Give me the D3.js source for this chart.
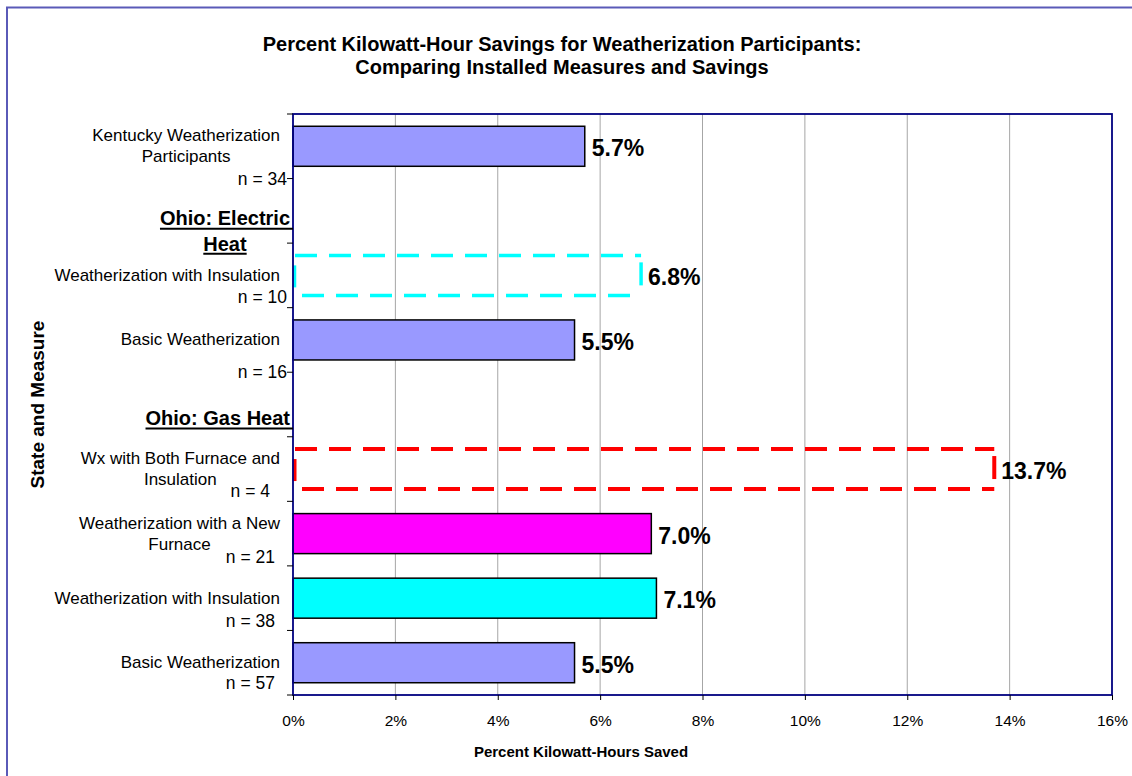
<!DOCTYPE html>
<html>
<head>
<meta charset="utf-8">
<script src="https://cdn.jsdelivr.net/npm/d3@7/dist/d3.min.js"></script>
<style>
  html, body { margin: 0; padding: 0; background: #fff; }
  svg { display: block; font-family: "Liberation Sans", Arial, sans-serif; }
</style>
</head>
<body>
<svg id="chart" width="1132" height="776"></svg>
<script>
// Rows from top to bottom; group headers have no value or sample size.
const categoryLines = [
  ["Kentucky Weatherization", "Participants"],
  ["Ohio: Electric", "Heat"],
  ["Weatherization with Insulation"],
  ["Basic Weatherization"],
  ["Ohio: Gas Heat"],
  ["Wx with Both Furnace and", "Insulation"],
  ["Weatherization with a New", "Furnace"],
  ["Weatherization with Insulation"],
  ["Basic Weatherization"]
];
const sampleSizes = [34, null, 10, 16, null, 4, 21, 38, 57];
const savingsPct = [5.7, null, 6.8, 5.5, null, 13.7, 7.0, 7.1, 5.5];
const xTickValues = [0, 2, 4, 6, 8, 10, 12, 14, 16];

const titleLines = [
  "Percent Kilowatt-Hour Savings for Weatherization Participants:",
  "Comparing Installed Measures and Savings"
];
const xTitle = "Percent Kilowatt-Hours Saved";
const yTitle = "State and Measure";

// Bar appearance per row: solid fill or dashed outline only.
const barStyle = [
  { fill: "#9999FF" },
  null,
  { dashed: "#00FFFF", width: 3.5 },
  { fill: "#9999FF" },
  null,
  { dashed: "#FF0000", width: 4 },
  { fill: "#FF00FF" },
  { fill: "#00FFFF" },
  { fill: "#9999FF" }
];
// Placement tweaks: for measure rows, the "n = .." line (dx from axis, dy from row bottom);
// for header rows, the first line's offset below the row centre.
const rowNudge = [
  [-6, 0], 7, [-6, -11], [-6, 0], 13, [-23, -10.5], [-18, -9], [-18, -9], [-18, -12]
];

const svg = d3.select("#chart");
const plot = { left: 293, right: 1112, top: 114, bottom: 695 };

// Outer chart frame (only left and top edges fall inside the view)
svg.append("rect")
  .attr("x", 7).attr("y", 7.5).attr("width", 1300).attr("height", 1000)
  .attr("fill", "none").attr("stroke", "#5a5ab8").attr("stroke-width", 2);

const x = d3.scaleLinear().domain([0, 16]).range([plot.left, plot.right]);
const y = d3.scaleBand().domain(d3.range(categoryLines.length))
  .range([plot.top, plot.bottom]).paddingInner(0).paddingOuter(0);
const barH = y.bandwidth() * 0.62;

// Gridlines
svg.append("g").selectAll("line")
  .data(xTickValues.filter(d => d > 0 && d < 16))
  .join("line")
  .attr("x1", d => x(d)).attr("x2", d => x(d))
  .attr("y1", plot.top).attr("y2", plot.bottom)
  .attr("stroke", "#a6a6a6").attr("stroke-width", 1);

// Bars
const rows = d3.range(categoryLines.length).filter(i => savingsPct[i] != null);
const gBars = svg.append("g");
rows.forEach(i => {
  const s = barStyle[i];
  const y0 = y(i) + (y.bandwidth() - barH) / 2;
  const x0 = x(0), x1 = x(savingsPct[i]);
  if (s.fill) {
    gBars.append("rect")
      .attr("x", x0).attr("y", y0).attr("width", x1 - x0).attr("height", barH)
      .attr("fill", s.fill).attr("stroke", "#000").attr("stroke-width", 1.5);
  } else {
    const g = gBars.append("g").attr("stroke", s.dashed).attr("stroke-width", s.width).attr("fill", "none");
    g.append("line").attr("x1", x0 + 2).attr("x2", x1).attr("y1", y0).attr("y2", y0)
      .attr("stroke-dasharray", "22 12");
    g.append("line").attr("x1", x0 + 9).attr("x2", x1).attr("y1", y0 + barH).attr("y2", y0 + barH)
      .attr("stroke-dasharray", "22 12");
    g.append("line").attr("x1", x1).attr("x2", x1).attr("y1", y0 + 7).attr("y2", y0 + 30);
    g.append("line").attr("x1", x0 + 1.5).attr("x2", x0 + 1.5).attr("y1", y0 + 10).attr("y2", y0 + 32);
  }
});

// Value labels
svg.append("g").selectAll("text")
  .data(rows)
  .join("text")
  .attr("x", i => x(savingsPct[i]) + 7)
  .attr("y", i => y(i) + y.bandwidth() / 2 + 2)
  .attr("dominant-baseline", "central")
  .attr("font-size", 23).attr("font-weight", "bold").attr("fill", "#000")
  .text(i => savingsPct[i].toFixed(1) + "%");

// Plot border
svg.append("rect")
  .attr("x", plot.left).attr("y", plot.top)
  .attr("width", plot.right - plot.left).attr("height", plot.bottom - plot.top)
  .attr("fill", "none").attr("stroke", "#000080").attr("stroke-width", 1.8);

// X axis ticks and labels
const xAxis = d3.axisBottom(x).tickValues(xTickValues).tickSize(5).tickPadding(15)
  .tickFormat(d => d + "%");
const gx = svg.append("g").attr("transform", `translate(0,${plot.bottom})`).call(xAxis);
gx.select(".domain").remove();
gx.selectAll("line").attr("stroke", "#000");
gx.selectAll("text").attr("font-size", 15.5).attr("font-family", "Liberation Sans, Arial, sans-serif")
  .attr("fill", "#000");

// Y axis ticks at row boundaries
const boundaries = d3.range(categoryLines.length + 1).map(i => plot.top + i * y.bandwidth());
svg.append("g").selectAll("line")
  .data(boundaries)
  .join("line")
  .attr("x1", plot.left - 6).attr("x2", plot.left)
  .attr("y1", d => d).attr("y2", d => d)
  .attr("stroke", "#000").attr("stroke-width", 1);

// Row labels
const gLab = svg.append("g");
categoryLines.forEach((lines, i) => {
  const header = savingsPct[i] == null;
  const cy = y(i) + y.bandwidth() / 2;
  if (header) {
    const lh = 26;
    const y1 = cy + rowNudge[i];
    const right = plot.left - 3;
    const first = gLab.append("text")
      .attr("x", right).attr("y", y1)
      .attr("dominant-baseline", "central").attr("text-anchor", "end")
      .attr("font-size", 20).attr("font-weight", "bold").text(lines[0]);
    const w0 = first.node().getComputedTextLength();
    const center = right - w0 / 2;
    gLab.append("line")
      .attr("x1", right - w0).attr("x2", plot.left)
      .attr("y1", y1 + 11).attr("y2", y1 + 11)
      .attr("stroke", "#000").attr("stroke-width", 2);
    lines.slice(1).forEach((t, k) => {
      const ly = y1 + lh * (k + 1);
      const tx = gLab.append("text")
        .attr("x", center).attr("y", ly)
        .attr("dominant-baseline", "central").attr("text-anchor", "middle")
        .attr("font-size", 20).attr("font-weight", "bold").text(t);
      const w = tx.node().getComputedTextLength();
      gLab.append("line")
        .attr("x1", center - w / 2).attr("x2", center + w / 2)
        .attr("y1", ly + 10).attr("y2", ly + 10)
        .attr("stroke", "#000").attr("stroke-width", 2);
    });
  } else {
    const lh = 21;
    const right = plot.left - 13;
    const top = cy - (lines.length - 1) * lh / 2;
    const first = gLab.append("text")
      .attr("x", right).attr("y", top)
      .attr("dominant-baseline", "central").attr("text-anchor", "end")
      .attr("font-size", 17).attr("fill", "#000").text(lines[0]);
    const w0 = first.node().getComputedTextLength();
    lines.slice(1).forEach((t, k) => {
      gLab.append("text")
        .attr("x", right - w0 / 2).attr("y", top + lh * (k + 1))
        .attr("dominant-baseline", "central").attr("text-anchor", "middle")
        .attr("font-size", 17).attr("fill", "#000").text(t);
    });
    const nn = rowNudge[i];
    gLab.append("text")
      .attr("x", plot.left + nn[0]).attr("y", y(i) + y.bandwidth() + nn[1])
      .attr("dominant-baseline", "central").attr("text-anchor", "end")
      .attr("font-size", 17.5).attr("fill", "#000").text("n = " + sampleSizes[i]);
  }
});

// Titles
svg.append("g").selectAll("text")
  .data(titleLines)
  .join("text")
  .attr("x", 562).attr("y", (d, i) => 44 + i * 23)
  .attr("dominant-baseline", "central").attr("text-anchor", "middle")
  .attr("font-size", 20).attr("font-weight", "bold").text(d => d);

svg.append("text")
  .attr("x", 581).attr("y", 751)
  .attr("dominant-baseline", "central").attr("text-anchor", "middle")
  .attr("font-size", 15).attr("font-weight", "bold").text(xTitle);

svg.append("text")
  .attr("transform", `translate(37,${(plot.top + plot.bottom) / 2}) rotate(-90)`)
  .attr("dominant-baseline", "central").attr("text-anchor", "middle")
  .attr("font-size", 19).attr("font-weight", "bold").text(yTitle);
</script>
</body>
</html>
